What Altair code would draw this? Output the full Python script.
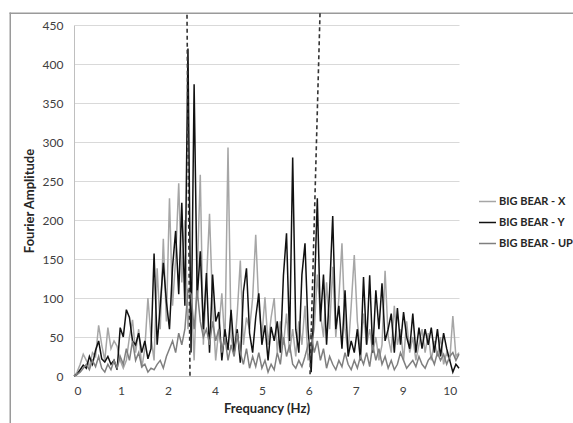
import altair as alt
import pandas as pd

# Frequency grid (Hz), 0.08 Hz step, 0 .. 10 Hz
freq = [round(0.08 * i, 2) for i in range(126)]

big_bear_x = [
    0, 5, 15, 28, 20, 12, 30, 25, 65, 40,
    20, 62, 35, 45, 38, 20, 10, 20, 50, 72,
    30, 60, 10, 35, 100, 50, 20, 138, 60, 176,
    70, 228, 90, 150, 247, 120, 200, 60, 110, 20,
    130, 258, 40, 120, 208, 90, 20, 60, 106, 40,
    293, 50, 30, 80, 148, 40, 75, 60, 100, 181,
    90, 50, 101, 40, 75, 100, 30, 70, 40, 80,
    30, 60, 25, 70, 40, 90, 20, 40, 60, 130,
    80, 50, 120, 60, 140, 50, 100, 170, 60, 30,
    90, 155, 70, 30, 80, 40, 60, 30, 50, 20,
    40, 135, 50, 30, 90, 40, 60, 20, 70, 30,
    50, 20, 40, 60, 30, 55, 20, 45, 25, 50,
    15, 30, 20, 77, 25, 30,
]

big_bear_y = [
    0, 2, 8, 14, 10, 25, 15, 33, 45, 22,
    18, 25, 15, 20, 8, 62, 50, 85, 75, 45,
    40, 55, 30, 45, 22, 35, 157, 40, 90, 145,
    95, 60, 140, 186, 105, 222, 90, 420, 30, 374,
    100, 160, 60, 132, 30, 130, 70, 82, 20, 60,
    33, 85, 30, 60, 17, 108, 138, 55, 30, 75,
    106, 40, 65, 20, 63, 45, 70, 30, 129, 183,
    45, 280, 60, 30, 130, 170, 60, 5, 100, 228,
    70, 130, 40, 110, 205, 60, 90, 35, 110, 25,
    45, 30, 60, 20, 127, 40, 129, 30, 110, 60,
    119, 45, 60, 80, 30, 87, 40, 82, 50, 35,
    80, 30, 62, 35, 60, 40, 62, 30, 60, 25,
    55, 35, 20, 5, 15, 10,
]

big_bear_up = [
    0, 2, 5, 10, 15, 8, 20, 12, 25, 10,
    5, 15, 8, 20, 10, 25, 15, 35, 20, 45,
    20, 30, 12, 15, 5, 10, 8, 15, 20, 10,
    25, 35, 45, 30, 55, 40, 60, 110, 105, 60,
    110, 70, 50, 60, 40, 70, 45, 60, 30, 50,
    20, 40, 25, 55, 30, 15, 35, 10, 25, 12,
    30, 10, 20, 5, 15, 8, 30, 15, 50, 25,
    40, 15, 10, 20, 12, 25, 40, 55, 30, 45,
    20, 35, 10, 25, 15, 8, 20, 12, 30, 15,
    8, 20, 10, 25, 15, 30, 12, 40, 20, 35,
    15, 25, 10, 20, 8, 15, 30, 20, 10, 15,
    20, 12, 25, 15, 10, 20, 25, 15, 30, 20,
    28, 15, 25, 30, 20, 28,
]

series_names = ["BIG BEAR - X", "BIG BEAR - Y", "BIG BEAR - UP"]
series_colors = ["#a6a6a6", "#111111", "#7f7f7f"]

# Hand-drawn dashed marker lines (start/end in data units)
marker_x1 = [2.935, 6.39]
marker_y1 = [463, 465]
marker_x2 = [3.013, 6.13]
marker_y2 = [-3, 0]

x_tick_values = [0, 1.22, 2.44, 3.66, 4.88, 6.1, 7.32, 8.54, 9.76]
y_tick_values = [0, 50, 100, 150, 200, 250, 300, 350, 400, 450]

rows = []
for name, vals in zip(series_names, [big_bear_x, big_bear_y, big_bear_up]):
    for f, v in zip(freq, vals):
        rows.append({"freq": f, "amp": v, "series": name})
df = pd.DataFrame(rows)

markers = pd.DataFrame({"x1": marker_x1, "y1": marker_y1, "x2": marker_x2, "y2": marker_y2})

FONT = "Lato"

x_scale = alt.Scale(domain=[0, 10], nice=False, zero=False)
y_scale = alt.Scale(domain=[0, 450], nice=False)

x_axis = alt.Axis(
    title="Frequancy (Hz)",
    values=x_tick_values,
    format=".0f",
    grid=False,
    ticks=False,
    labelOverlap=False,
    labelPadding=9,
    titlePadding=6,
    domainColor="#bfbfbf",
    labelColor="#404040",
    labelFontSize=12,
    titleFontSize=13,
    titleFontWeight="bold",
    titleColor="#262626",
)
y_axis = alt.Axis(
    title="Fourier Amplitude",
    values=y_tick_values,
    grid=True,
    gridColor="#d9d9d9",
    gridWidth=1,
    ticks=False,
    labelOverlap=False,
    labelPadding=11,
    titlePadding=6,
    domainColor="#bfbfbf",
    labelColor="#404040",
    labelFontSize=12,
    titleFontSize=13,
    titleFontWeight="bold",
    titleColor="#262626",
)

color_enc = alt.Color(
    "series:N",
    scale=alt.Scale(domain=series_names, range=series_colors),
    legend=alt.Legend(
        title=None,
        orient="none",
        legendX=404,
        legendY=167,
        symbolType="stroke",
        symbolSize=289,
        symbolStrokeWidth=1.5,
        labelFontSize=11,
        labelFontWeight="bold",
        labelColor="#262626",
        labelOffset=2,
        rowPadding=6,
    ),
)

base = alt.Chart(df).mark_line(strokeWidth=1.5).encode(
    x=alt.X("freq:Q", scale=x_scale, axis=x_axis),
    y=alt.Y("amp:Q", scale=y_scale, axis=y_axis),
    color=color_enc,
)

lines = [base.transform_filter(alt.datum.series == n) for n in series_names]

dash = alt.Chart(markers).mark_rule(
    color="#333333", strokeWidth=1.6, strokeDash=[4, 3]
).encode(
    x=alt.X("x1:Q", scale=x_scale, axis=x_axis),
    y=alt.Y("y1:Q", scale=y_scale, axis=y_axis),
    x2="x2:Q",
    y2="y2:Q",
)

# Outer chart-area frame: top edge and left edge
frame_top = alt.Chart(markers).transform_filter(alt.datum.x1 < 3).mark_rect(
    color="#9a9a9a"
).encode(
    x=alt.value(-64.5), x2=alt.value(510), y=alt.value(-12.5), y2=alt.value(-11)
)
frame_left = alt.Chart(markers).transform_filter(alt.datum.x1 < 3).mark_rect(
    color="#9a9a9a"
).encode(
    x=alt.value(-64.5), x2=alt.value(-63), y=alt.value(-12.5), y2=alt.value(420)
)

chart = alt.layer(frame_top, frame_left, *lines, dash).properties(
    width=385,
    height=351,
    autosize=alt.AutoSizeParams(type="none"),
    padding={"left": 74, "top": 25, "right": 114, "bottom": 47},
).configure(font=FONT).configure_view(stroke=None)

chart.save("out.html", embed_options={"renderer": "svg", "actions": False})
